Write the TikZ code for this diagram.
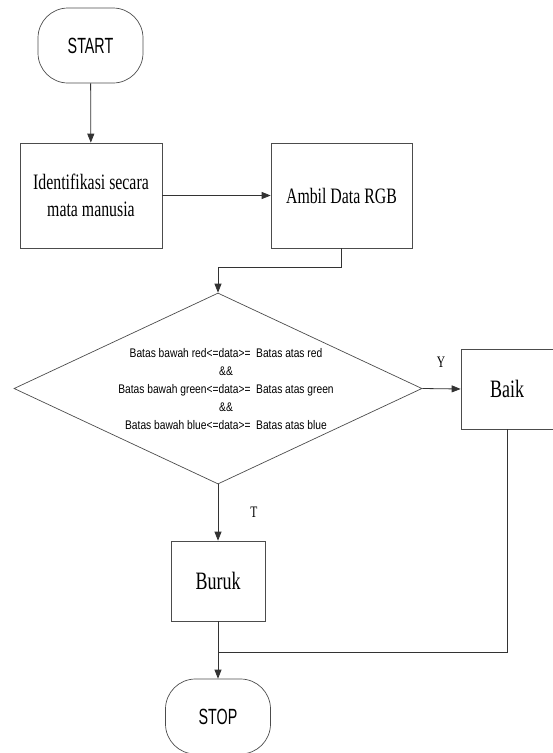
\documentclass[tikz,border=0pt]{standalone}
\usepackage{fontspec}
\setmainfont{Liberation Serif}
\newfontfamily\serifn[FakeStretch=0.72]{Liberation Serif}
\newfontfamily\sansn[FakeStretch=0.65]{Liberation Sans}
\newfontfamily\sansd[FakeStretch=0.82]{Liberation Sans}
\usetikzlibrary{arrows.meta,shapes.geometric}
\begin{document}
\begin{tikzpicture}[x=1pt,y=-1pt,
  line/.style={draw=black!80, line width=0.8pt},
  arr/.style={line, -{Triangle[length=9pt,width=7pt]}},
  term/.style={draw=black!70, line width=0.7pt, rounded corners=30pt,
    minimum width=105pt, minimum height=75pt, inner sep=0pt,
    font=\sansn\fontsize{22}{26}\selectfont},
  proc/.style={draw=black!70, line width=0.7pt, inner sep=0pt,
    font=\serifn\fontsize{22}{27}\selectfont, align=center},
  big/.style={font=\serifn\fontsize{25}{30}\selectfont},
  lbl/.style={inner sep=0pt, font=\serifn\fontsize{16}{18}\selectfont}]
\useasboundingbox (0,0) rectangle (553,753);
\node[term] (start) at (90.5,45.5) {START};
\node[proc, minimum width=142pt, minimum height=105pt] (id) at (91,195.5) {Identifikasi secara\\mata manusia};
\node[proc, minimum width=141pt, minimum height=105pt] (rgb) at (341.5,195.5) {Ambil Data RGB};
\node[draw=black!70, line width=0.7pt, diamond, minimum width=408pt, minimum height=191pt, inner sep=0pt] (dia) at (218,388.5) {};
\node[inner sep=0pt, align=center, font=\sansd\fontsize{12.5}{18}\selectfont] (cond) at (226,389)
  {Batas bawah red<=data>=\ \ Batas atas red\\\&\&\\Batas bawah green<=data>=\ \ Batas atas green\\\&\&\\Batas bawah blue<=data>=\ \ Batas atas blue};
\node[proc, big, minimum width=92pt, minimum height=80pt] (baik) at (507,389) {Baik};
\node[proc, big, minimum width=94pt, minimum height=80pt] (buruk) at (218,581) {Buruk};
\node[term] (stop) at (218,716.5) {STOP};
\coordinate (k) at (218,267);
\coordinate (m) at (218,652);
\node[lbl] (ylab) at (441,362) {Y};
\node[lbl] (tlab) at (254,512) {T};
\draw[arr] (start) -- (id);
\draw[arr] (id) -- (rgb);
\draw[arr] (rgb.south) |- (k) -- (dia.north);
\draw[arr] (dia.east) -- (baik.west);
\draw[arr] (dia.south) -- (buruk.north);
\draw[arr] (buruk.south) -- (stop.north);
\draw[line] (baik.south) |- (m);
\end{tikzpicture}
\end{document}
